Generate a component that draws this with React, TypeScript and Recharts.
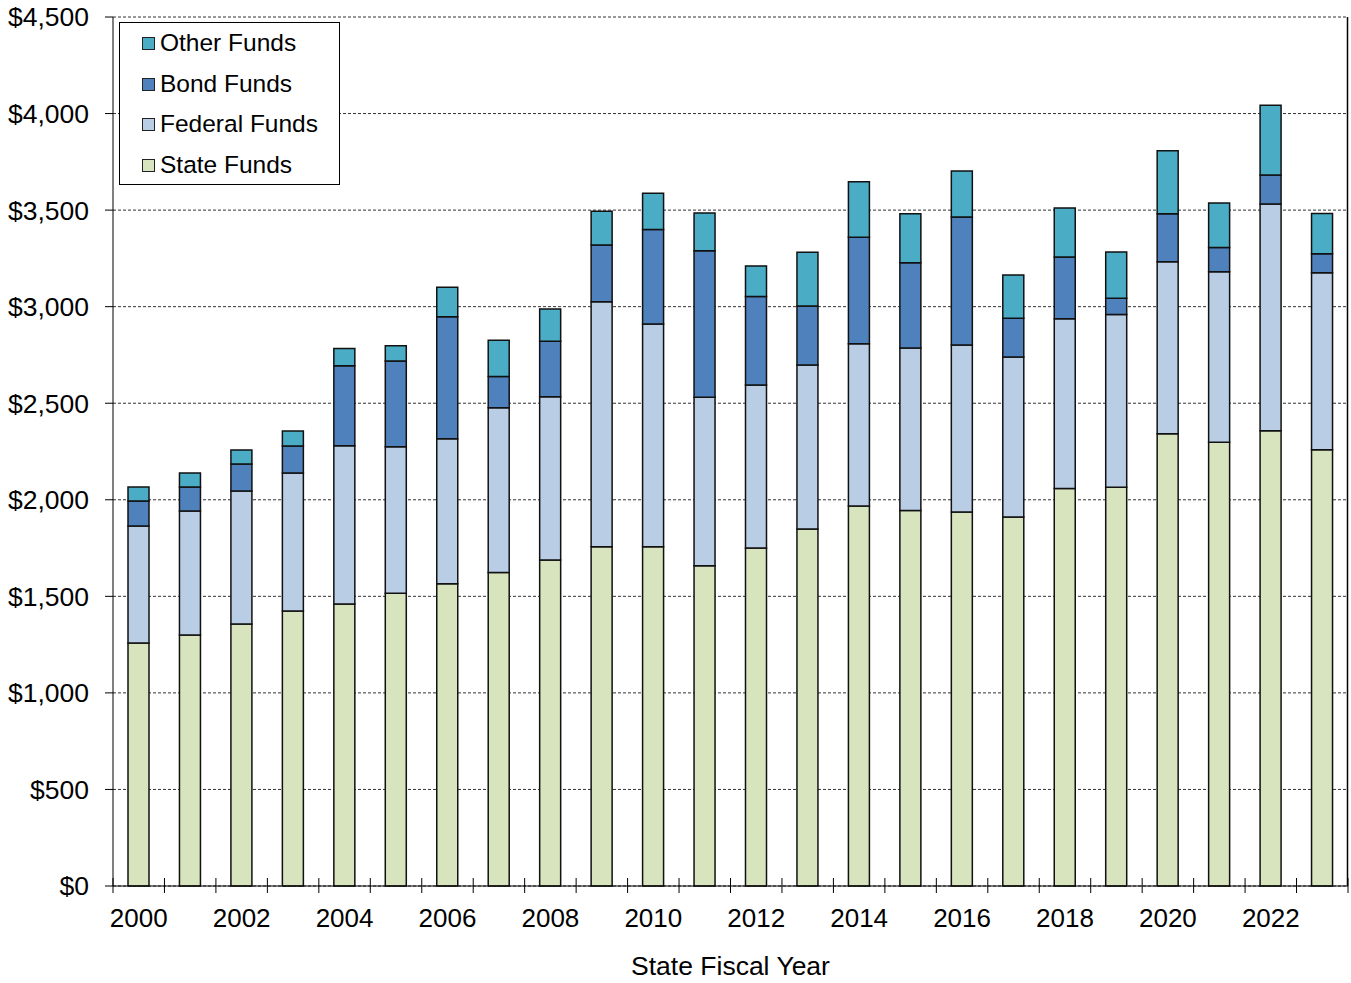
import React from 'react';
import { BarChart, Bar, XAxis, YAxis, CartesianGrid } from 'recharts';

const years = ['2000','2001','2002','2003','2004','2005','2006','2007','2008','2009','2010','2011','2012','2013','2014','2015','2016','2017','2018','2019','2020','2021','2022','2023'];
const stateFunds   = [1258,1300,1357,1424,1460,1516,1565,1624,1688,1757,1757,1659,1750,1849,1968,1945,1937,1911,2059,2065,2342,2298,2358,2259];
const federalFunds = [606,642,688,715,820,759,751,853,846,1269,1153,872,844,849,840,841,865,828,879,895,891,883,1174,917];
const bondFunds    = [130,124,140,139,414,444,632,162,287,293,489,759,458,305,551,442,662,201,319,83,248,126,150,98];
const otherFunds   = [72,73,73,78,90,79,152,187,167,175,188,195,159,279,288,253,239,224,254,240,327,230,361,209];
const yTicks = [0,500,1000,1500,2000,2500,3000,3500,4000,4500];

const seriesNames = { state: 'State Funds', federal: 'Federal Funds', bond: 'Bond Funds', other: 'Other Funds' };
const colors = { state: '#D7E4BD', federal: '#B9CDE5', bond: '#4F81BD', other: '#4BACC6' };

const data = years.map((y, i) => ({
  year: y,
  state: stateFunds[i],
  federal: federalFunds[i],
  bond: bondFunds[i],
  other: otherFunds[i],
}));

const W = 1351;
const H = 983;
const LEFT = 113;
const RIGHT_M = 3;
const HALF = (W - LEFT - RIGHT_M) / years.length / 2;
const FONT = '"Liberation Sans", Arial, Helvetica, sans-serif';

const fmt = (v: number) => '$' + v.toLocaleString('en-US');

const XTick = (props: any) => {
  const { x, y, payload } = props;
  const idx = payload && payload.index != null ? payload.index : props.index;
  return (
    <g>
      <line x1={x - HALF} x2={x - HALF} y1={y - 8} y2={y + 7} stroke="#000" strokeWidth={1} />
      {idx === years.length - 1 && (
        <line x1={x + HALF} x2={x + HALF} y1={y - 8} y2={y + 7} stroke="#000" strokeWidth={1} />
      )}
      {idx % 2 === 0 && (
        <text x={x} y={y + 41} textAnchor="middle" fontSize={26} fill="#000" fontFamily={FONT}>
          {payload.value}
        </text>
      )}
    </g>
  );
};

const legendOrder: Array<keyof typeof seriesNames> = ['other', 'bond', 'federal', 'state'];

export default function App() {
  return (
    <div style={{ position: 'absolute', left: 0, top: 0, width: W, height: H, background: '#fff', fontFamily: FONT }}>
      <BarChart
        width={W}
        height={H}
        data={data}
        margin={{ top: 17, right: RIGHT_M, bottom: 0, left: 0 }}
        barSize={21}
      >
        <CartesianGrid vertical={false} stroke="#333" strokeDasharray="3 2" strokeWidth={1} />
        <CartesianGrid horizontal={false} vertical verticalPoints={[W - RIGHT_M - 0.5]} stroke="#000" strokeWidth={1.5} />
        <XAxis
          dataKey="year"
          interval={0}
          height={97}
          tickSize={0}
          tickMargin={0}
          tickLine={false}
          axisLine={{ stroke: '#000', strokeWidth: 1 }}
          tick={<XTick />}
          label={{ value: 'State Fiscal Year', position: 'insideBottom', offset: 8, fontSize: 26.5, fill: '#000', fontFamily: FONT }}
        />
        <YAxis
          width={LEFT}
          domain={[0, 4500]}
          ticks={yTicks}
          interval={0}
          tickSize={8}
          tickMargin={16}
          tickFormatter={fmt}
          axisLine={{ stroke: '#000', strokeWidth: 1 }}
          tickLine={{ stroke: '#000', strokeWidth: 1 }}
          tick={{ fontSize: 26.5, fill: '#000', fontFamily: FONT }}
        />
        {(['state', 'federal', 'bond', 'other'] as const).map((k) => (
          <Bar
            key={k}
            dataKey={k}
            name={seriesNames[k]}
            stackId="a"
            fill={colors[k]}
            stroke="#111"
            strokeWidth={1.5}
            isAnimationActive={false}
          />
        ))}
      </BarChart>
      <div
        style={{
          position: 'absolute',
          left: 119,
          top: 22,
          width: 221,
          height: 163,
          boxSizing: 'border-box',
          border: '1px solid #000',
          background: '#fff',
        }}
      >
        {legendOrder.map((k, i) => (
          <div key={k} style={{ position: 'absolute', left: 0, top: 20 + i * 40.7 - 14, height: 28, width: '100%' }}>
            <div
              style={{
                position: 'absolute',
                left: 22,
                top: 8,
                width: 13,
                height: 13,
                boxSizing: 'border-box',
                border: '1px solid #222',
                background: colors[k],
              }}
            />
            <div
              style={{
                position: 'absolute',
                left: 40,
                top: 0,
                lineHeight: '28px',
                fontSize: 24.5,
                color: '#000',
                whiteSpace: 'nowrap',
              }}
            >
              {seriesNames[k]}
            </div>
          </div>
        ))}
      </div>
    </div>
  );
}
